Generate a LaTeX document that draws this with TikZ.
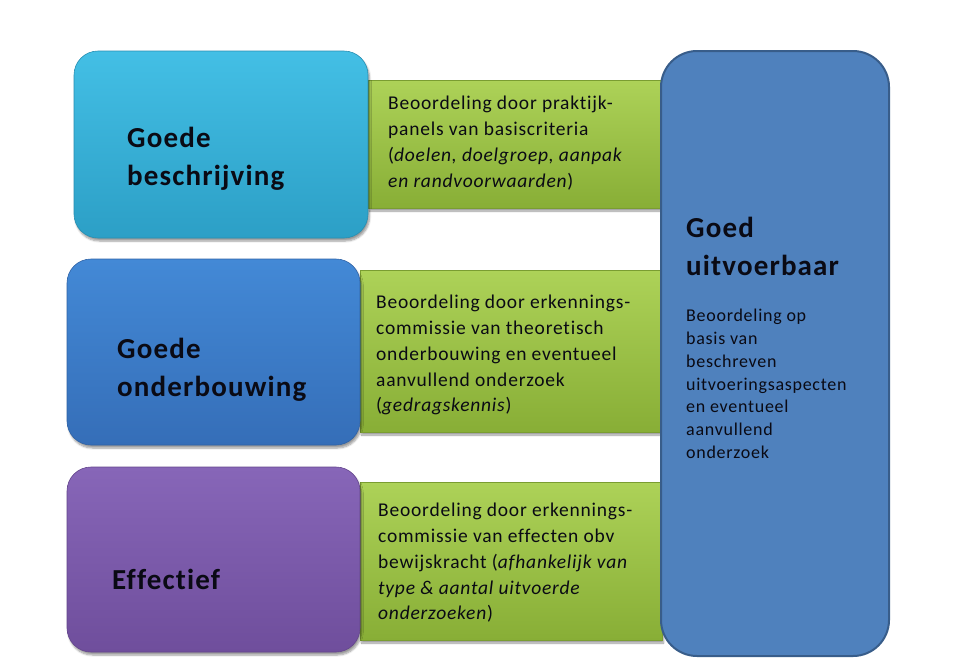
\documentclass[tikz,border=0pt]{standalone}
\usepackage{fontspec}
\setmainfont{Carlito}[LetterSpace=4,Ligatures=NoCommon]
\usetikzlibrary{shadows.blur}
\definecolor{cyanT}{HTML}{43BFE5}
\definecolor{cyanB}{HTML}{2C9FC6}
\definecolor{blueT}{HTML}{4389D6}
\definecolor{blueB}{HTML}{356EB8}
\definecolor{purpT}{HTML}{8766B8}
\definecolor{purpB}{HTML}{6F4E9C}
\definecolor{grnT}{HTML}{ADD258}
\definecolor{grnB}{HTML}{88AE36}
\definecolor{rightF}{HTML}{4F81BD}
\definecolor{rightD}{HTML}{385D8A}
\definecolor{txt}{HTML}{0A0A14}
\tikzset{
  leftbox/.style={rounded corners=24pt, inner sep=0pt,
    blur shadow={shadow xshift=1.5pt, shadow yshift=-3pt, shadow blur steps=6, shadow opacity=40}},
  grnbox/.style={inner sep=0pt, top color=grnT, bottom color=grnB, draw=grnB!90!black, line width=0.6pt,
    blur shadow={shadow xshift=1.5pt, shadow yshift=-3pt, shadow blur steps=6, shadow opacity=40}},
  bigtxt/.style={anchor=north west, align=left, inner sep=0pt, text=txt,
    font=\fontsize{29}{37.5}\selectfont\bfseries},
  smalltxt/.style={anchor=north west, align=left, inner sep=0pt, text=txt,
    font=\fontsize{19.5}{25.8}\selectfont},
  righttxt/.style={anchor=north west, align=left, inner sep=0pt, text=txt,
    font=\fontsize{18}{22.8}\selectfont}
}
\begin{document}
\begin{tikzpicture}[x=1pt,y=-1pt]
\useasboundingbox (0,0) rectangle (960,664);
% green bands
\node[grnbox, minimum width=294pt, minimum height=128pt] (g1) at (515,144) {};
\node[grnbox, minimum width=302pt, minimum height=162pt] (g2) at (511,351) {};
\node[grnbox, minimum width=302pt, minimum height=158pt] (g3) at (511,561) {};
% left boxes
\node[leftbox, top color=cyanT, bottom color=cyanB, draw=cyanB!90!black, line width=0.6pt,
  minimum width=294pt, minimum height=187pt] (b1) at (221,144.5) {};
\node[leftbox, top color=blueT, bottom color=blueB, draw=blueB!90!black, line width=0.6pt,
  minimum width=293pt, minimum height=186pt] (b2) at (213.5,352) {};
\node[leftbox, top color=purpT, bottom color=purpB, draw=purpB!90!black, line width=0.6pt,
  minimum width=293pt, minimum height=185pt] (b3) at (213.5,559.5) {};
% right box
\node[rounded corners=36pt, fill=rightF, draw=rightD, line width=2pt, inner sep=0pt,
  minimum width=228pt, minimum height=605pt] (r) at (775,353.5) {};
% texts
\node[bigtxt] (t1) at (127,127) {Goede\\beschrijving};
\node[bigtxt] (t2) at (117,338) {Goede\\onderbouwing};
\node[bigtxt] (t3) at (112,569) {Effectief};
\node[smalltxt] (s1) at (388,96) {Beoordeling door praktijk-\\panels van basiscriteria\\(\textit{doelen, doelgroep, aanpak}\\\textit{en randvoorwaarden})};
\node[smalltxt] (s2) at (376,295) {Beoordeling door erkennings-\\commissie van theoretisch\\onderbouwing en eventueel\\aanvullend onderzoek\\(\textit{gedragskennis})};
\node[smalltxt] (s3) at (378,503) {Beoordeling door erkennings-\\commissie van effecten obv\\bewijskracht (\textit{afhankelijk van}\\\textit{type \& aantal uitvoerde}\\\textit{onderzoeken})};
\node[bigtxt] (rt) at (686,217) {Goed\\uitvoerbaar};
\node[righttxt] (rs) at (686,309) {Beoordeling op\\basis van\\beschreven\\uitvoeringsaspecten\\en eventueel\\aanvullend\\onderzoek};
\end{tikzpicture}
\end{document}
